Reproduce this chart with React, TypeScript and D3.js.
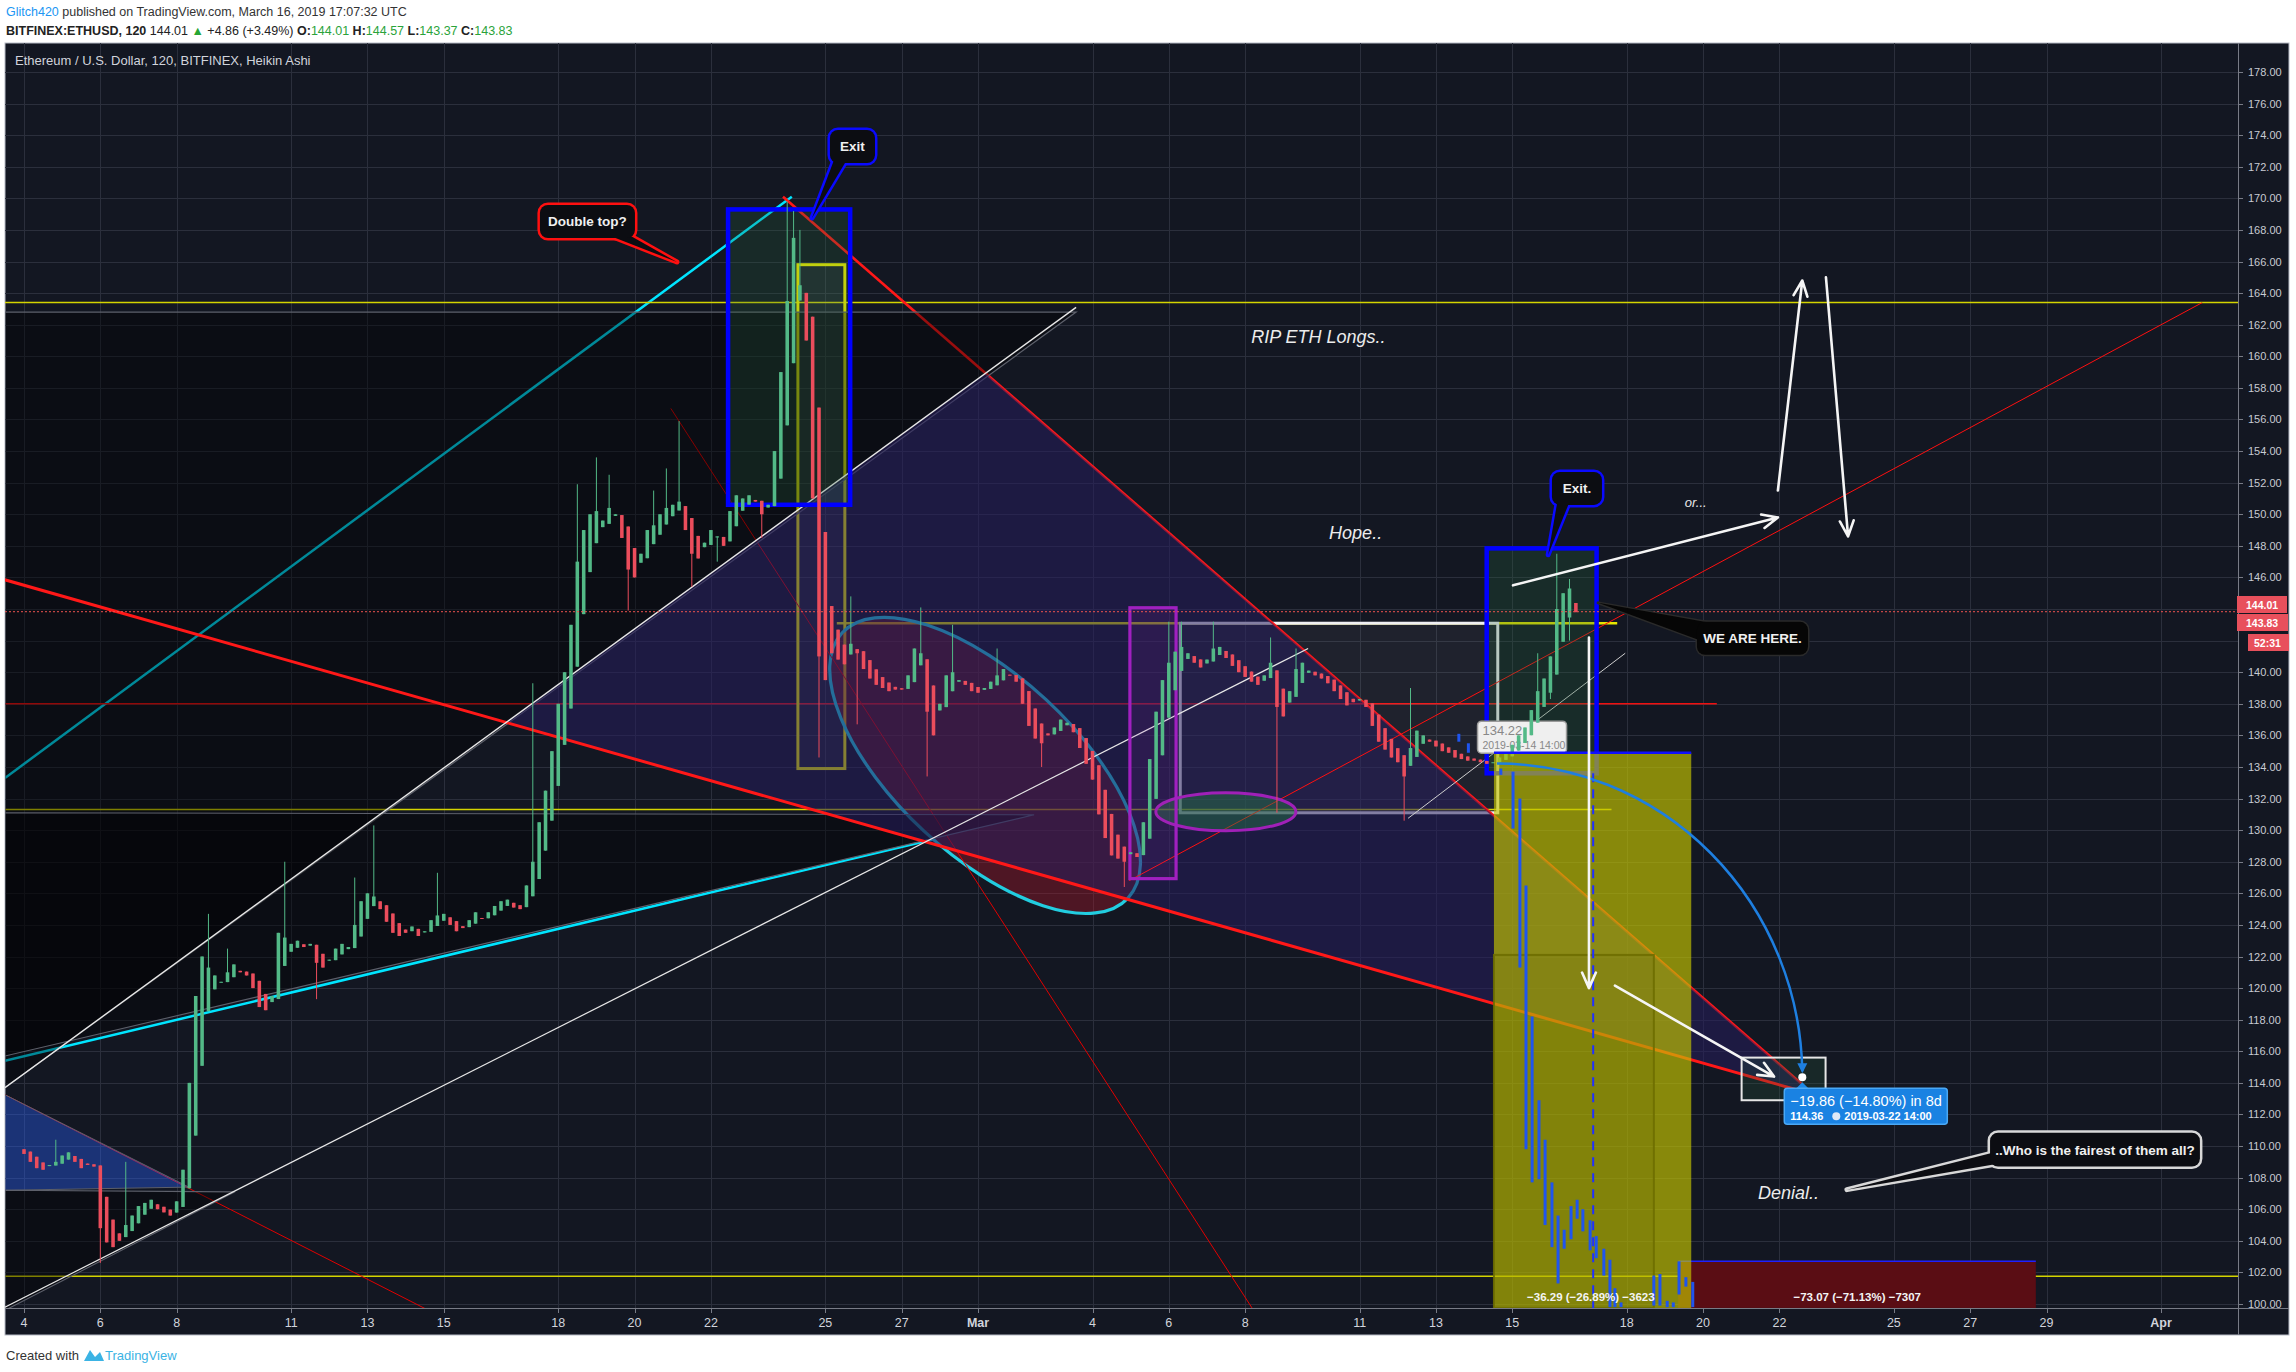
import React from "react";
import * as d3 from "d3";

const FONT = "'Liberation Sans', Arial, sans-serif";

// ---------------- data ----------------
const priceTicks = d3.range(100, 179, 2);
const dateTickDays = [0, 2, 4, 7, 9, 11, 14, 16, 18, 21, 23, 25, 28, 30, 32, 35, 37, 39, 42, 44, 46, 49, 51, 53, 56];
const dateTickLabels = ["4", "6", "8", "11", "13", "15", "18", "20", "22", "25", "27", "Mar", "4", "6", "8", "11", "13", "15", "18", "20", "22", "25", "27", "29", "Apr"];

// Heikin Ashi closes, 4h bars from 2019-02-04 00:00 (6 per day)
const haClose = [
  109.5, 109.0, 108.6, 108.5, 108.8, 109.0,
  109.4, 109.6, 109.0, 108.6, 108.8, 108.7,
  104.8, 103.9, 103.6, 104.0, 105.0, 105.6,
  106.2, 106.4, 106.6, 106.0, 105.8, 105.6,
  106.5, 108.5, 114.0, 119.5, 122.0, 121.3,
  120.8, 120.4, 121.0, 121.5, 121.0, 120.8,
  120.0, 118.8, 118.6, 119.5, 123.5, 123.2,
  122.8, 123.0, 122.6, 122.8, 121.6, 121.3,
  121.8, 122.5, 122.8, 122.6, 124.0, 125.5,
  126.0, 125.8, 125.0, 124.2, 123.5, 123.3,
  123.5, 123.9, 123.3, 123.6, 124.3, 124.6,
  124.7, 124.0, 123.6, 123.8, 124.3, 124.8,
  124.4, 124.8, 125.2, 125.5, 125.6, 125.1,
  125.0, 126.5, 128.0, 130.5, 132.5, 135.0,
  138.0, 140.0, 143.0, 147.0, 149.0, 150.0,
  150.2, 149.6, 150.4, 150.0, 148.5, 146.5,
  146.0, 147.5, 149.0, 149.3, 150.0, 150.4,
  150.6, 150.8, 149.0, 147.5, 147.2, 148.2,
  149.0, 148.6, 148.0, 150.2, 151.2, 151.0,
  151.2, 150.8, 150.0, 150.6, 154.0, 159.0,
  163.5, 167.5, 164.5, 161.0, 151.0, 141.0,
  139.5, 141.2, 140.8, 140.5, 141.8, 141.2,
  140.2, 139.6, 139.2, 139.0, 138.8, 138.9,
  138.9, 139.8, 141.5, 141.2, 137.5, 136.0,
  138.0, 139.8, 140.0, 139.5, 139.2, 138.8,
  138.7, 139.0, 139.4, 139.8, 140.2, 139.8,
  139.4, 138.0, 136.6, 135.8, 135.5, 136.0,
  136.5, 137.0, 136.8, 136.2, 135.2, 134.2,
  133.2, 131.0, 129.5, 128.4, 128.2, 128.0,
  128.6, 128.3, 130.5, 134.5, 137.5, 139.5,
  140.6, 141.3, 141.6, 141.2, 140.6, 140.3,
  140.8, 141.5, 141.6, 140.9, 140.4, 140.0,
  139.7, 139.4, 139.2, 139.8, 140.6, 137.8,
  137.2, 138.8, 140.2, 140.6, 140.1, 139.8,
  139.6, 139.3, 138.8, 138.3, 137.9, 138.1,
  138.3, 137.8, 136.6, 135.6, 135.1, 134.6,
  134.3, 133.4, 135.2, 136.3, 136.0, 135.6,
  135.3, 135.0, 134.9, 134.6, 134.5, 134.4,
  134.4, 134.3, 134.2, 134.3, 134.6, 134.9,
  135.4, 136.0, 136.5, 137.6, 138.8, 139.6,
  141.0, 144.0, 145.0, 145.3, 143.8,
];
const haSeedOpen = 109.8;

// notable wicks: [day, high, low]
const wickMarks: [number, number | null, number | null][] = [
  [0.83, 110.4, null], [2.0, null, 102.6], [2.67, 109.0, null], [4.83, 124.7, null],
  [5.33, 122.5, null], [6.83, 128.0, null], [7.67, null, 119.3], [8.67, 127.0, null],
  [9.17, 130.3, null], [10.83, 127.3, null], [13.33, 139.3, null], [14.5, 151.9, null],
  [15.0, 153.6, null], [15.33, 152.5, null], [15.83, null, 143.9], [16.5, 151.5, null],
  [16.83, 152.9, null], [17.17, 155.9, null], [17.5, null, 145.4], [18.17, null, 147.0],
  [19.33, null, 148.5], [20.0, 169.8, null], [20.17, 169.2, null], [20.33, 168.0, null],
  [20.83, null, 134.6], [21.0, 144.8, null], [21.67, 144.8, null], [21.83, null, 136.7],
  [23.5, 144.1, null], [23.67, null, 133.4], [24.33, 143.0, null], [25.5, 141.5, null],
  [26.67, null, 134.0], [28.83, null, 126.4], [30.0, 143.2, null], [30.33, 143.2, null],
  [31.17, 143.2, null], [32.67, 142.2, null], [32.83, null, 131.1], [33.33, 141.5, null],
  [36.17, null, 130.6], [36.33, 139.0, null], [39.67, 141.2, null], [40.0, null, 138.3],
  [40.17, 147.5, null], [40.5, 145.9, 142.0],
];

// projected bars pattern: [day, high, low]
const ghostBars: [number, number, number][] = [
  [37.6, 136.1, 135.6], [37.85, 135.5, 134.9], [38.7, 133.9, 133.5],
  [39.02, 133.7, 130.1], [39.2, 132.0, 121.3], [39.36, 126.5, 109.8], [39.52, 118.2, 107.7],
  [39.7, 112.9, 107.9], [39.86, 110.4, 105.0], [40.04, 107.7, 103.6], [40.2, 105.6, 101.3],
  [40.36, 104.7, 103.5], [40.54, 106.2, 104.1], [40.7, 106.6, 105.4], [40.85, 106.0, 104.6],
  [41.04, 105.3, 103.4], [41.2, 104.3, 102.9], [41.4, 103.5, 101.8], [41.56, 102.8, 99.8],
  [41.69, 101.0, 99.8], [41.85, 100.1, 99.8], [42.71, 101.8, 99.9], [42.87, 101.9, 99.9],
  [43.06, 100.2, 99.8], [43.22, 100.1, 99.8], [43.37, 102.7, 100.6], [43.55, 101.7, 101.1],
  [43.73, 101.4, 99.8],
];

const lastClose = 143.83;
const axisLabels = ["144.01", "143.83", "52:31"];
const hiddenTicks = [144, 142];

// drawing anchors: [day, price]
const cyanUpper: [number, number][] = [[-0.5, 133.3], [20.12, 170.1]];
const cyanLower: [number, number][] = [[-0.5, 115.4], [23.81, 129.4]];
const whiteUpper: [number, number][] = [[-0.5, 113.7], [27.57, 163.1]];
const whiteLower: [number, number][] = [[-0.5, 99.8], [33.65, 141.5]];
const whiteShort: [number, number][] = [[36.27, 130.75], [41.96, 141.2]];
const redThick1: [number, number][] = [[-0.5, 145.85], [46.4, 113.6]];
const redThick2: [number, number][] = [[19.89, 170.1], [46.6, 113.9]];
const redThin1: [number, number][] = [[16.95, 156.7], [32.18, 99.75]];
const redThin2: [number, number][] = [[-0.5, 113.25], [10.6, 99.6]];
const redThin3: [number, number][] = [[28.96, 126.8], [57.08, 163.4]];
const blueTriangle: [number, number][] = [[-0.5, 113.25], [4.32, 107.4], [-0.5, 107.2]];
const darkTriangle1: [number, number][] = [[-0.5, 162.8], [27.57, 162.8], [-0.5, 113.7]];
const darkTriangle2: [number, number][] = [[-0.5, 131.1], [26.47, 130.97], [-0.5, 115.7]];
const darkTriangle3: [number, number][] = [[-0.5, 107.2], [5.53, 107.1], [-0.5, 99.6]];
const yellowLevels = [163.4, 101.75];
const yellowMid = { price: 131.3, from: -0.5, to: 41.6 };
const yellowTop = { price: 143.1, from: 21.3, to: 41.75 };
const redLevel = { price: 138.0, from: -0.5, to: 44.36 };
const cyanEllipse: [number, number][] = [[21.44, 142.5], [28.93, 125.7]];
const cyanEllipseRatio = 0.46;
const purpleEllipse = { d0: 29.66, d1: 33.33, p0: 132.37, p1: 129.96 };
const exitBox1 = { d0: 18.45, d1: 21.65, p0: 169.3, p1: 150.6 };
const yellowBox = { d0: 20.28, d1: 21.51, p0: 165.8, p1: 133.9 };
const purpleBox = { d0: 28.98, d1: 30.19, p0: 144.08, p1: 126.93 };
const whiteBox = { d0: 30.3, d1: 38.62, p0: 143.1, p1: 131.1 };
const exitBox2 = { d0: 38.33, d1: 41.21, p0: 147.84, p1: 133.6 };
const oliveBox = { d0: 38.52, d1: 43.69, p0: 134.9, p1: 99.75 };
const oliveInner = { d0: 38.52, d1: 42.71, p0: 122.1, p1: 99.75 };
const lossBox = { d0: 43.35, d1: 52.72, p0: 102.7, p1: 99.75 };
const targetBox = { d0: 45.01, d1: 47.21, p0: 115.6, p1: 112.9 };
const targetPoint: [number, number] = [46.6, 114.36];
const arcStart: [number, number] = [38.6, 134.22];
const dashedV = { day: 41.12, p0: 133.6, p1: 99.75 };
const arrows: [number, number][][] = [
  [[41.01, 142.2], [41.01, 120.0]],
  [[41.69, 120.15], [45.86, 114.4]],
  [[39.02, 145.5], [45.96, 149.8]],
  [[45.96, 151.5], [46.6, 164.8]],
  [[47.22, 165.0], [47.8, 148.6]],
];
const tooltipAnchor: [number, number] = [38.09, 136.9];
const texts = [
  { t: "RIP ETH Longs..", d: 32.16, p: 161.2 },
  { t: "Hope..", d: 34.2, p: 148.8 },
  { t: "Denial..", d: 45.44, p: 107.05 },
];
const orText = { t: "or...", d: 43.52, p: 150.8 };
const balloons = [
  { t: "Double top?", box: [13.52, 16.01, 169.58, 167.49], tip: [17.11, 165.97], base: [[0.62, 0.8], [0.9, 0.85]], kind: "red" },
  { t: "Exit", box: [21.12, 22.3, 174.33, 172.24], tip: [20.65, 168.76], base: [[0.12, 0.8], [0.42, 0.8]], kind: "blue" },
  { t: "Exit.", box: [40.04, 41.35, 152.68, 150.59], tip: [39.94, 147.43], base: [[0.12, 0.8], [0.38, 0.8]], kind: "blue" },
  { t: "WE ARE HERE.", box: [43.84, 46.75, 143.19, 141.1], tip: [41.25, 144.39], base: [[0.06, 0.6], [0.32, 0.15]], kind: "black" },
  { t: "..Who is the fairest of them all?", box: [51.52, 57.02, 110.85, 108.7], tip: [47.77, 107.24], base: [[0.04, 0.55], [0.1, 0.85]], kind: "white" },
];
const positionTexts = [
  { t: "\u221236.29 (\u221226.89%) \u22123623", d: 41.06, p: 100.2 },
  { t: "\u221273.07 (\u221271.13%) \u22127307", d: 48.04, p: 100.2 },
];

// ---------------- helpers ----------------
function inter(p1: number[], p2: number[], p3: number[], p4: number[]) {
  const [x1, y1] = p1, [x2, y2] = p2, [x3, y3] = p3, [x4, y4] = p4;
  const den = (x1 - x2) * (y3 - y4) - (y1 - y2) * (x3 - x4);
  const t = ((x1 - x3) * (y3 - y4) - (y1 - y3) * (x3 - x4)) / den;
  return [x1 + t * (x2 - x1), y1 + t * (y2 - y1)];
}
function arrowPath(p1: number[], p2: number[], len = 17, ang = 0.42) {
  const a = Math.atan2(p2[1] - p1[1], p2[0] - p1[0]);
  const l1 = [p2[0] - len * Math.cos(a - ang), p2[1] - len * Math.sin(a - ang)];
  const l2 = [p2[0] - len * Math.cos(a + ang), p2[1] - len * Math.sin(a + ang)];
  return `M${p1[0]},${p1[1]}L${p2[0]},${p2[1]}M${l1[0]},${l1[1]}L${p2[0]},${p2[1]}L${l2[0]},${l2[1]}`;
}

export default function App() {
  const W = 2296, H = 1372;
  const left = 5, right = 2238, top = 43, bottom = 1308, outerRight = 2289, outerBottom = 1335;
  const x = d3.scaleLinear().domain([0, 56]).range([24, 2161]);
  const y = d3.scaleLinear().domain([100, 178]).range([1304, 72]);
  const P = (a: number[]) => [x(a[0]), y(a[1])];
  const seg = (a: number[][], props: any, key?: string) => {
    const [p1, p2] = a.map(P);
    return <line key={key} x1={p1[0]} y1={p1[1]} x2={p2[0]} y2={p2[1]} {...props} />;
  };
  const box = (b: any, props: any) => (
    <rect x={x(b.d0)} y={y(b.p0)} width={x(b.d1) - x(b.d0)} height={y(b.p1) - y(b.p0)} {...props} />
  );
  const poly = (pts: number[][]) => pts.map((p) => p.join(",")).join(" ");

  // candles
  const candles: { t: number; o: number; c: number; h: number; l: number }[] = [];
  let o = haSeedOpen;
  haClose.forEach((c, i) => {
    candles.push({ t: i / 6, o, c, h: Math.max(o, c), l: Math.min(o, c) });
    o = (o + c) / 2;
  });
  wickMarks.forEach(([d, hi, lo]) => {
    const k = Math.round(d * 6);
    const cd = candles[k];
    if (!cd) return;
    if (hi != null) cd.h = Math.max(cd.h, hi);
    if (lo != null) cd.l = Math.min(cd.l, lo);
  });
  const step = x(1 / 6) - x(0);
  const bw = step * 0.56;

  // wedge between the two thick red lines, left-bounded by the white line
  const wu = whiteUpper.map(P), r1 = redThick1.map(P), r2 = redThick2.map(P);
  const i1 = inter(wu[0], wu[1], r1[0], r1[1]);
  const i2 = inter(wu[0], wu[1], r2[0], r2[1]);
  const wedge = [i1, i2, r2[1], r1[1]];

  // ellipse
  const e1 = P(cyanEllipse[0]), e2 = P(cyanEllipse[1]);
  const ecx = (e1[0] + e2[0]) / 2, ecy = (e1[1] + e2[1]) / 2;
  const ea = Math.hypot(e2[0] - e1[0], e2[1] - e1[1]) / 2;
  const eang = (Math.atan2(e2[1] - e1[1], e2[0] - e1[0]) * 180) / Math.PI;

  const tgt = P(targetPoint), as = P(arcStart);
  const tp = P(tooltipAnchor);

  const green = "#53b987", red = "#eb4d5c";

  const balloonEl = (b: any, i: number) => {
    const x0 = x(b.box[0]), x1 = x(b.box[1]), y0 = y(b.box[2]), y1 = y(b.box[3]);
    const w = x1 - x0, h = y1 - y0;
    const base = b.base.map((f: number[]) => [x0 + f[0] * w, y0 + f[1] * h]);
    const tip = P(b.tip);
    const ptr = `M${base[0][0]},${base[0][1]}L${tip[0]},${tip[1]}L${base[1][0]},${base[1][1]}Z`;
    const st = { red: "#ff1010", blue: "#0a0aff", black: "#2a2a2a", white: "#d8d8d8" }[b.kind as string];
    const fill = b.kind === "black" ? "#060606" : "#0c0d12";
    const sw = b.kind === "black" ? 1.5 : 2.5;
    const rr = 8;
    return (
      <g key={"b" + i}>
        <path d={ptr} fill={fill} stroke={st} strokeWidth={sw * 2} strokeLinejoin="round" />
        <rect x={x0} y={y0} width={w} height={h} rx={rr} fill={fill} stroke={st} strokeWidth={sw * 2} />
        <path d={ptr} fill={fill} />
        <rect x={x0} y={y0} width={w} height={h} rx={rr} fill={fill} />
        <text x={(x0 + x1) / 2} y={(y0 + y1) / 2 + 5} textAnchor="middle" fill="#f0f0f0" fontSize={13.5} fontWeight="bold" fontFamily={FONT}>
          {b.t}
        </text>
      </g>
    );
  };

  return (
    <svg width={W} height={H} style={{ position: "absolute", left: 0, top: 0, background: "#ffffff" }} fontFamily={FONT}>
      <defs>
        <clipPath id="plot">
          <rect x={left} y={top} width={right - left} height={bottom - top} />
        </clipPath>
      </defs>
      {/* header */}
      <text x={6} y={16} fontSize={12.5} fill="#333">
        <tspan fill="#2196f3">Glitch420</tspan>
        <tspan> published on TradingView.com, March 16, 2019 17:07:32 UTC</tspan>
      </text>
      <text x={6} y={35} fontSize={12.5} fill="#222">
        <tspan fontWeight="bold">BITFINEX:ETHUSD, 120</tspan>
        <tspan>{"  144.01 "}</tspan>
        <tspan fill="#26a635">{"\u25B2"}</tspan>
        <tspan>{" +4.86 (+3.49%) "}</tspan>
        <tspan fontWeight="bold">O:</tspan>
        <tspan fill="#2aa33a">144.01 </tspan>
        <tspan fontWeight="bold">H:</tspan>
        <tspan fill="#2aa33a">144.57 </tspan>
        <tspan fontWeight="bold">L:</tspan>
        <tspan fill="#2aa33a">143.37 </tspan>
        <tspan fontWeight="bold">C:</tspan>
        <tspan fill="#2aa33a">143.83</tspan>
      </text>

      {/* panel */}
      <rect x={left} y={top} width={outerRight - left} height={outerBottom - top} fill="#131722" stroke="#b8bcc6" strokeWidth={1} />

      {/* grid */}
      <g stroke="#2b2f3c" strokeWidth={1}>
        {priceTicks.map((p) => (
          <line key={"h" + p} x1={left} x2={right} y1={Math.round(y(p)) + 0.5} y2={Math.round(y(p)) + 0.5} />
        ))}
        {dateTickDays.map((d) => (
          <line key={"v" + d} x1={Math.round(x(d)) + 0.5} x2={Math.round(x(d)) + 0.5} y1={top} y2={bottom} />
        ))}
      </g>

      <g clipPath="url(#plot)">
        {/* lines lying under the overlays */}
        {seg(cyanUpper, { stroke: "#00e5ff", strokeWidth: 2.5 })}
        {seg(cyanLower, { stroke: "#00e5ff", strokeWidth: 2.5 })}
        {yellowLevels.map((p) => (
          <line key={"yl" + p} x1={left} x2={right} y1={y(p)} y2={y(p)} stroke="#d4d400" strokeWidth={1.5} />
        ))}
        <line x1={x(yellowMid.from)} x2={x(yellowMid.to)} y1={y(yellowMid.price)} y2={y(yellowMid.price)} stroke="#d4d400" strokeWidth={1.5} />
        <line x1={x(yellowTop.from)} x2={x(yellowTop.to)} y1={y(yellowTop.price)} y2={y(yellowTop.price)} stroke="#e6e600" strokeWidth={2.5} />
        <line x1={x(redLevel.from)} x2={x(redLevel.to)} y1={y(redLevel.price)} y2={y(redLevel.price)} stroke="#f01010" strokeWidth={1.6} />
        {box(whiteBox, { fill: "rgba(255,255,255,0.05)", stroke: "#f0f0f4", strokeWidth: 3 })}
        {box(yellowBox, { fill: "rgba(255,255,255,0.06)", stroke: "#f5f500", strokeWidth: 3 })}
        <ellipse cx={ecx} cy={ecy} rx={ea} ry={ea * cyanEllipseRatio} transform={`rotate(${eang} ${ecx} ${ecy})`} fill="rgba(175,20,40,0.38)" stroke="#22cde0" strokeWidth={3.2} />
        {seg(redThick2, { stroke: "#ff1818", strokeWidth: 2.6 })}
        {seg(redThin1, { stroke: "#e00000", strokeWidth: 1 })}
        {seg(redThin2, { stroke: "#e00000", strokeWidth: 1 })}

        {/* blue triangle */}
        <polygon points={poly(blueTriangle.map(P))} fill="rgba(41,98,255,0.38)" stroke="#5d606b" strokeWidth={1} />

        {/* dark triangle overlays */}
        <polygon points={poly(darkTriangle1.map(P))} fill="rgba(0,0,0,0.4)" stroke="#5d606b" strokeWidth={1.2} />
        <polygon points={poly(darkTriangle2.map(P))} fill="rgba(0,0,0,0.4)" stroke="#5d606b" strokeWidth={1.1} />
        <polygon points={poly(darkTriangle3.map(P))} fill="rgba(0,0,0,0.4)" stroke="#5d606b" strokeWidth={1.1} />

        {/* purple wedge */}
        <polygon points={poly(wedge)} fill="rgba(39,30,95,0.54)" />

        {seg(redThick1, { stroke: "#ff1818", strokeWidth: 3 })}
        {seg(whiteUpper, { stroke: "#e8e8e8", strokeWidth: 1.4 })}
        {seg(whiteLower, { stroke: "#e8e8e8", strokeWidth: 1.2 })}
        {seg(whiteShort, { stroke: "#cfcfcf", strokeWidth: 1 })}
        {seg(redThin3, { stroke: "#ff1010", strokeWidth: 1 })}

        {/* purple ellipse */}
        <ellipse cx={(x(purpleEllipse.d0) + x(purpleEllipse.d1)) / 2} cy={(y(purpleEllipse.p0) + y(purpleEllipse.p1)) / 2} rx={(x(purpleEllipse.d1) - x(purpleEllipse.d0)) / 2} ry={(y(purpleEllipse.p1) - y(purpleEllipse.p0)) / 2} fill="rgba(40,120,70,0.45)" stroke="#a020b8" strokeWidth={3} />

        {/* boxes */}
        {box(purpleBox, { fill: "rgba(156,39,176,0.12)", stroke: "#a020c0", strokeWidth: 3.2 })}
        {box(exitBox1, { fill: "rgba(40,100,60,0.25)" })}
        {box(exitBox2, { fill: "rgba(40,100,60,0.28)" })}

        {/* blue exit boxes stroke */}
        {box(exitBox1, { fill: "none", stroke: "#0000ff", strokeWidth: 4.5 })}
        {box(exitBox2, { fill: "none", stroke: "#0000ff", strokeWidth: 4.5 })}

        {/* tooltip */}
        <g>
          <rect x={tp[0]} y={tp[1]} width={89} height={32} rx={4} fill="#efefef" stroke="#9a9a9a" strokeWidth={1.5} />
          <text x={tp[0] + 5} y={tp[1] + 14} fontSize={13} fill="#888">134.22</text>
          <text x={tp[0] + 5} y={tp[1] + 28} fontSize={10.5} fill="#888">2019-03-14 14:00</text>
        </g>

        {/* candles */}
        {candles.map((cd, i) => {
          const col = cd.c >= cd.o ? green : red;
          const cx = x(cd.t);
          const yt = y(Math.max(cd.o, cd.c)), yb = y(Math.min(cd.o, cd.c));
          return (
            <g key={"c" + i}>
              <line x1={cx} x2={cx} y1={y(cd.h)} y2={y(cd.l)} stroke={col} strokeWidth={1} />
              <rect x={cx - bw / 2} y={yt} width={bw} height={Math.max(1, yb - yt)} fill={col} />
            </g>
          );
        })}

        {/* current price line */}
        <line x1={left} x2={right} y1={y(lastClose)} y2={y(lastClose)} stroke="#ef5350" strokeWidth={1} strokeDasharray="2,2" />

        {/* loss + olive position boxes */}
        {box(lossBox, { fill: "#5a0d14" })}
        <line x1={x(lossBox.d0)} x2={x(lossBox.d1)} y1={y(lossBox.p0)} y2={y(lossBox.p0)} stroke="#2020ff" strokeWidth={1.5} />
        {box(oliveBox, { fill: "rgba(198,198,0,0.66)" })}
        {box(oliveInner, { fill: "rgba(60,60,0,0.08)", stroke: "rgba(110,110,0,0.9)", strokeWidth: 2 })}
        <line x1={x(oliveBox.d0)} x2={x(oliveBox.d1)} y1={y(oliveBox.p0)} y2={y(oliveBox.p0)} stroke="#1010ff" strokeWidth={2.5} />

        {/* ghost bars */}
        {ghostBars.map(([d, hi, lo], i) => (
          <line key={"g" + i} x1={x(d)} x2={x(d)} y1={y(hi)} y2={y(lo)} stroke="#1f55ee" strokeWidth={3} />
        ))}
        <line x1={x(dashedV.day)} x2={x(dashedV.day)} y1={y(dashedV.p0)} y2={y(dashedV.p1)} stroke="#2030ff" strokeWidth={2} strokeDasharray="9,7" />

        {/* target box + arc */}
        {box(targetBox, { fill: "rgba(40,90,60,0.25)", stroke: "#e6e6e6", strokeWidth: 2 })}
        <path d={`M${as[0]},${as[1]} A${tgt[0] - as[0]},${tgt[1] - as[1]} 0 0 1 ${tgt[0]},${tgt[1] - 6}`} fill="none" stroke="#1e7fe0" strokeWidth={2.5} />
        <path d={`M${tgt[0] - 5},${tgt[1] - 14} L${tgt[0] + 5},${tgt[1] - 14} L${tgt[0]},${tgt[1] - 4} Z`} fill="#1e7fe0" />
        <circle cx={tgt[0]} cy={tgt[1]} r={4} fill="#ffffff" />

        {/* white arrows */}
        {arrows.map((a, i) => (
          <path key={"a" + i} d={arrowPath(P(a[0]), P(a[1]))} fill="none" stroke="#f5f5f5" strokeWidth={2.6} strokeLinecap="round" strokeLinejoin="round" />
        ))}

        {/* blue measurement label */}
        <g>
          <path d={`M${tgt[0] - 7},${tgt[1] + 12} L${tgt[0]},${tgt[1] + 5} L${tgt[0] + 7},${tgt[1] + 12} Z`} fill="#1e88e5" />
          <rect x={tgt[0] - 18} y={tgt[1] + 11} width={163} height={36} rx={3} fill="#1a82e2" stroke="#4aa8f5" strokeWidth={1.5} />
          <text x={tgt[0] - 12} y={tgt[1] + 29} fontSize={14.5} fill="#ffffff">{"\u221219.86 (\u221214.80%) in 8d"}</text>
          <text x={tgt[0] - 12} y={tgt[1] + 43} fontSize={11} fill="#ffffff" fontWeight="bold">114.36</text>
          <circle cx={tgt[0] + 34} cy={tgt[1] + 39} r={4} fill="#dfe9f7" />
          <text x={tgt[0] + 42} y={tgt[1] + 43} fontSize={11} fill="#ffffff" fontWeight="bold">2019-03-22  14:00</text>
        </g>

        {/* texts */}
        {texts.map((t, i) => (
          <text key={"t" + i} x={x(t.d)} y={y(t.p) + 6} fontSize={18} fontStyle="italic" fill="#ececec">{t.t}</text>
        ))}
        <text x={x(orText.d)} y={y(orText.p) + 5} fontSize={13} fontStyle="italic" fill="#ececec">{orText.t}</text>
        {positionTexts.map((t, i) => (
          <text key={"pt" + i} x={x(t.d)} y={y(t.p)} fontSize={11.5} fontWeight="bold" fill="#f4f4f4" textAnchor="middle">{t.t}</text>
        ))}

        {/* balloons */}
        {balloons.map(balloonEl)}

        {/* chart title */}
        <text x={15} y={65} fontSize={13} fill="#d1d4dc">Ethereum / U.S. Dollar, 120, BITFINEX, Heikin Ashi</text>
      </g>

      {/* axes */}
      <line x1={right + 0.5} x2={right + 0.5} y1={top} y2={outerBottom} stroke="#787b86" strokeWidth={1} />
      <line x1={left} x2={outerRight} y1={bottom + 0.5} y2={bottom + 0.5} stroke="#787b86" strokeWidth={1} />
      <g fontSize={11} fill="#c8cbd3">
        {priceTicks.filter((p) => !hiddenTicks.includes(p)).map((p) => (
          <g key={"pl" + p}>
            <line x1={right} x2={right + 5} y1={Math.round(y(p)) + 0.5} y2={Math.round(y(p)) + 0.5} stroke="#787b86" />
            <text x={2248} y={y(p) + 4}>{p.toFixed(2)}</text>
          </g>
        ))}
      </g>
      <g fontSize={12.5} fill="#d1d4dc">
        {dateTickDays.map((d, i) => (
          <g key={"dl" + i}>
            <line x1={Math.round(x(d)) + 0.5} x2={Math.round(x(d)) + 0.5} y1={bottom} y2={bottom + 5} stroke="#787b86" />
            <text x={x(d)} y={bottom + 19} textAnchor="middle" fontWeight={/[A-Za-z]/.test(dateTickLabels[i]) ? "bold" : "normal"}>
              {dateTickLabels[i]}
            </text>
          </g>
        ))}
      </g>
      {/* price labels */}
      <g fontSize={10.5} fontWeight="bold" fill="#ffffff">
        <rect x={right - 1} y={596} width={50} height={17} fill="#e8505c" />
        <text x={2246} y={608.5}>{axisLabels[0]}</text>
        <rect x={right - 1} y={614} width={51} height={17} fill="#e8505c" />
        <text x={2246} y={626.5}>{axisLabels[1]}</text>
        <rect x={2248} y={634} width={41} height={17} fill="#e8505c" />
        <text x={2254} y={647}>{axisLabels[2]}</text>
      </g>

      {/* footer */}
      <text x={6} y={1360} fontSize={13} fill="#333">Created with</text>
      <path d="M84,1361 L90,1350 L95,1357 L100,1352 L104,1361 Z" fill="#3bb3e4" />
      <text x={105} y={1360} fontSize={13} fill="#3bb3e4">TradingView</text>
    </svg>
  );
}
